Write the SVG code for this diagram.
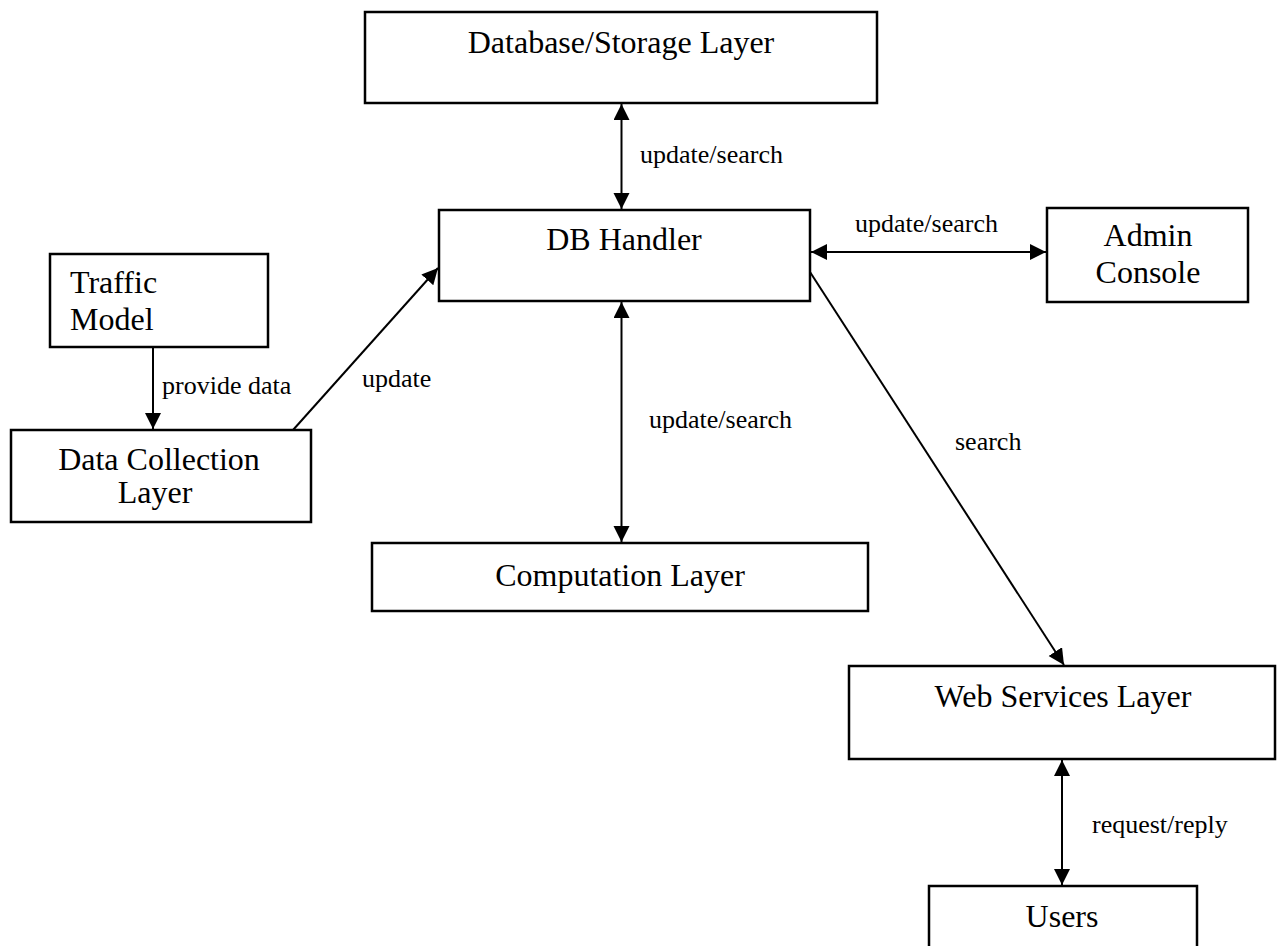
<svg xmlns="http://www.w3.org/2000/svg" width="1277" height="946" viewBox="0 0 1277 946">
<style>
.box{fill:#fff;stroke:#000;stroke-width:2.5}
.t{font-family:"Liberation Serif","Times New Roman",serif;font-size:32px;fill:#000}
.l{font-family:"Liberation Serif","Times New Roman",serif;font-size:26px;fill:#000}
.c{fill:none;stroke:#000;stroke-width:2}
</style>
<defs>
<marker id="ah" markerUnits="userSpaceOnUse" markerWidth="18" markerHeight="18" refX="16" refY="8" orient="auto-start-reverse" viewBox="0 0 18 18">
<path d="M0,0 L16,8 L0,16 z" fill="#000"/>
</marker>
</defs>
<rect width="1277" height="946" fill="#fff"/>
<g id="db-storage"><rect class="box" x="365" y="12" width="512" height="91"/><text class="t" x="621" y="53" text-anchor="middle">Database/Storage Layer</text></g>
<g id="db-handler"><rect class="box" x="439" y="210" width="371" height="91"/><text class="t" x="624" y="250" text-anchor="middle">DB Handler</text></g>
<g id="admin"><rect class="box" x="1047" y="208" width="201" height="94"/><text class="t" x="1148" y="246" text-anchor="middle">Admin</text><text class="t" x="1148" y="283" text-anchor="middle">Console</text></g>
<g id="traffic"><rect class="box" x="50" y="254" width="218" height="93"/><text class="t" x="70" y="293">Traffic</text><text class="t" x="70" y="330">Model</text></g>
<g id="data-collection"><rect class="box" x="11" y="430" width="300" height="92"/><text class="t" x="159" y="470" text-anchor="middle">Data Collection</text><text class="t" x="155" y="503" text-anchor="middle">Layer</text></g>
<g id="computation"><rect class="box" x="372" y="543" width="496" height="68"/><text class="t" x="620" y="586" text-anchor="middle">Computation Layer</text></g>
<g id="web-services"><rect class="box" x="849" y="666" width="426" height="93"/><text class="t" x="1063" y="707" text-anchor="middle">Web Services Layer</text></g>
<g id="users"><rect class="box" x="929" y="886" width="268" height="70"/><text class="t" x="1062" y="927" text-anchor="middle">Users</text></g>
<g id="connectors">
<line class="c" x1="621.5" y1="104" x2="621.5" y2="209" marker-start="url(#ah)" marker-end="url(#ah)"/>
<text class="l" x="640" y="163">update/search</text>
<line class="c" x1="811" y1="252" x2="1046" y2="252" marker-start="url(#ah)" marker-end="url(#ah)"/>
<text class="l" x="855" y="232">update/search</text>
<line class="c" x1="621.5" y1="302" x2="621.5" y2="542" marker-start="url(#ah)" marker-end="url(#ah)"/>
<text class="l" x="649" y="428">update/search</text>
<line class="c" x1="153" y1="347" x2="153" y2="429" marker-end="url(#ah)"/>
<text class="l" x="162" y="394">provide data</text>
<line class="c" x1="293" y1="430" x2="438" y2="268" marker-end="url(#ah)"/>
<text class="l" x="362" y="387">update</text>
<line class="c" x1="810" y1="272" x2="1064" y2="665" marker-end="url(#ah)"/>
<text class="l" x="955" y="450">search</text>
<line class="c" x1="1062" y1="760" x2="1062" y2="885" marker-start="url(#ah)" marker-end="url(#ah)"/>
<text class="l" x="1092" y="833">request/reply</text>
</g>
</svg>
